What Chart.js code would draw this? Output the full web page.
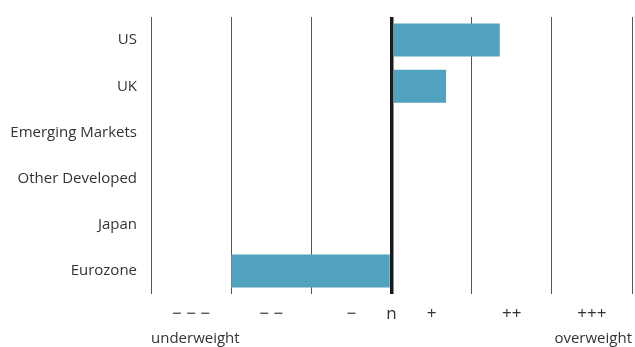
<!DOCTYPE html>
<html>
<head>
<meta charset="utf-8">
<script src="https://cdn.jsdelivr.net/npm/chart.js@4/dist/chart.umd.min.js"></script>
<style>
  html, body { margin: 0; padding: 0; background: #fff; }
  #wrap { width: 635px; height: 347px; position: relative; }
</style>
</head>
<body>
<div id="wrap"><canvas id="c"></canvas></div>
<script>
// Regional equity positioning, scale from -3 (underweight) to +3 (overweight)
const regions = ['US', 'UK', 'Emerging Markets', 'Other Developed', 'Japan', 'Eurozone'];
const positions = [1.35, 0.68, 0, 0, 0, -2];

// Grid at whole steps, symbol labels between them
const gridValues = [-3, -2, -1, 0, 1, 2, 3];
const symbolValues = [-2.5, -1.5, -0.5, 0, 0.5, 1.5, 2.5];
const symbolLabels = ['\u2212 \u2212 \u2212', '\u2212 \u2212', '\u2212', 'n', '+', '++', '+++'];
const endValues = [-3, 3];
const endLabels = ['underweight', 'overweight'];

const FONT = '"Open Sans", "Noto Sans", sans-serif';
const TEXT = '#333333';
const SIZE = 15;

function fixedTicks(values) {
  return function (scale) {
    scale.ticks = values.map(v => ({ value: v }));
  };
}

// Label rows sit outside the plot; keep them from shrinking it sideways
function fixedRow(h) {
  return function (scale) {
    scale.height = h;
    scale.paddingLeft = 0;
    scale.paddingRight = 0;
  };
}

new Chart(document.getElementById('c'), {
  type: 'bar',
  data: {
    labels: regions,
    datasets: [{
      data: positions,
      backgroundColor: '#50a2bf',
      borderWidth: 0,
      barPercentage: 0.714,
      categoryPercentage: 1.0,
      xAxisID: 'x'
    }]
  },
  options: {
    indexAxis: 'y',
    responsive: true,
    maintainAspectRatio: false,
    animation: false,
    layout: { padding: { top: 17, right: 3, left: 0, bottom: 0 } },
    plugins: { legend: { display: false }, tooltip: { enabled: false } },
    scales: {
      y: {
        grid: { display: false, drawTicks: false },
        border: { display: false },
        afterFit: s => { s.width = 151; s.paddingTop = 0; s.paddingBottom = 0; },
        ticks: {
          color: TEXT,
          padding: 14,
          font: { family: FONT, size: SIZE }
        }
      },
      x: {
        type: 'linear',
        position: 'bottom',
        min: -3,
        max: 3,
        weight: 0,
        afterBuildTicks: fixedTicks(gridValues),
        afterFit: fixedRow(0),
        border: { display: false },
        grid: {
          drawTicks: false,
          color: ctx => ctx.tick && ctx.tick.value === 0 ? '#1a1a1a' : '#555555',
          lineWidth: ctx => ctx.tick && ctx.tick.value === 0 ? 3.5 : 1
        },
        ticks: { display: false }
      },
      x2: {
        type: 'linear',
        position: 'bottom',
        min: -3,
        max: 3,
        weight: 1,
        afterBuildTicks: fixedTicks(symbolValues),
        afterFit: fixedRow(26),
        border: { display: false },
        grid: { display: false, drawTicks: false },
        ticks: {
          color: TEXT,
          padding: 10,
          autoSkip: false,
          maxRotation: 0,
          font: { family: FONT, size: 17 },
          callback: (v, i) => symbolLabels[i]
        }
      },
      x3: {
        type: 'linear',
        position: 'bottom',
        min: -3,
        max: 3,
        weight: 2,
        afterBuildTicks: fixedTicks(endValues),
        afterFit: fixedRow(27),
        border: { display: false },
        grid: { display: false, drawTicks: false },
        ticks: {
          color: TEXT,
          padding: 10,
          align: 'inner',
          autoSkip: false,
          maxRotation: 0,
          font: { family: FONT, size: SIZE },
          callback: (v, i) => endLabels[i]
        }
      }
    }
  }
});
</script>
</body>
</html>
